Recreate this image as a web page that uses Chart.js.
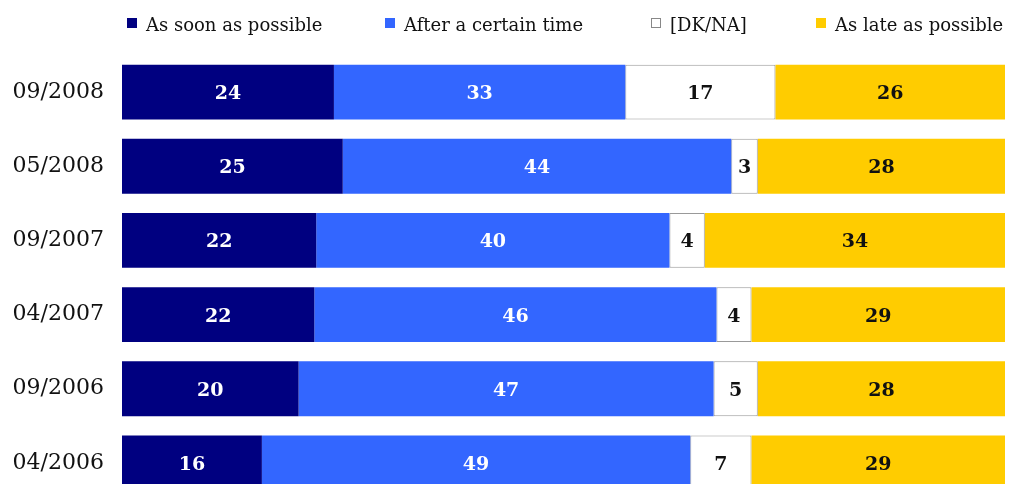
<!DOCTYPE html>
<html>
<head>
<meta charset="utf-8">
<script src="https://cdn.jsdelivr.net/npm/chart.js@4"></script>
<style>
  html, body { margin: 0; padding: 0; background: #fff; overflow: hidden; }
  #c { display: block; }
</style>
</head>
<body>
<canvas id="c" width="1009" height="500" style="width:1009px;height:500px"></canvas>
<script>
// Survey waves (top to bottom)
const waves = ['09/2008', '05/2008', '09/2007', '04/2007', '09/2006', '04/2006'];

// Answer shares per wave, in percent
const asSoonAsPossible   = [24, 25, 22, 22, 20, 16];
const afterCertainTime   = [33, 44, 40, 46, 47, 49];
const dontKnow           = [17, 3, 4, 4, 5, 7];
const asLateAsPossible   = [26, 28, 34, 29, 28, 29];

const seriesNames  = ['As soon as possible', 'After a certain time', '[DK/NA]', 'As late as possible'];
const seriesValues = [asSoonAsPossible, afterCertainTime, dontKnow, asLateAsPossible];
const fills        = ['#000080', '#3366FF', '#FFFFFF', '#FFCC00'];
const labelColors  = ['#FFFFFF', '#FFFFFF', '#111111', '#111111'];

// Each row is drawn as a full-width bar: shares scaled to the row total
const rowTotals = waves.map((_, i) => seriesValues.reduce((s, arr) => s + arr[i], 0));

const FONT = '"DejaVu Serif", Georgia, serif';

const datasets = seriesValues.map((vals, k) => ({
  label: seriesNames[k],
  data: vals.map((v, i) => v / rowTotals[i] * 100),
  raw: vals,
  backgroundColor: fills[k],
  borderColor: k === 2 ? '#999999' : fills[k],
  borderWidth: k === 2 ? 1 : 0,
  borderSkipped: false,
  categoryPercentage: 1.0,
  barPercentage: 0.74
}));

// Value labels centred in every segment
const valueLabels = {
  id: 'valueLabels',
  afterDatasetsDraw(chart) {
    const ctx = chart.ctx;
    ctx.save();
    ctx.font = 'bold 19px ' + FONT;
    ctx.textAlign = 'center';
    ctx.textBaseline = 'middle';
    chart.data.datasets.forEach((ds, k) => {
      chart.getDatasetMeta(k).data.forEach((bar, i) => {
        const cx = (bar.x + bar.base) / 2;
        ctx.fillStyle = labelColors[k];
        ctx.fillText(String(ds.raw[i]), cx, bar.y + 2);
      });
    });
    ctx.restore();
  }
};

// Legend row across the top
const legendRow = {
  id: 'legendRow',
  afterDraw(chart) {
    const ctx = chart.ctx;
    const xs = [127, 385, 651, 816];
    ctx.save();
    ctx.font = '18px ' + FONT;
    ctx.textBaseline = 'alphabetic';
    ctx.textAlign = 'left';
    seriesNames.forEach((name, k) => {
      const x = xs[k];
      ctx.fillStyle = fills[k];
      ctx.fillRect(x, 18, 10, 10);
      if (k === 2) {
        ctx.strokeStyle = '#888888';
        ctx.lineWidth = 1;
        ctx.strokeRect(x + 0.5, 18.5, 9, 9);
      }
      ctx.fillStyle = '#111111';
      ctx.fillText(name, x + 19, 31);
    });
    ctx.restore();
  }
};

new Chart(document.getElementById('c'), {
  type: 'bar',
  data: { labels: waves, datasets },
  options: {
    indexAxis: 'y',
    responsive: false,
    animation: false,
    layout: { padding: { top: 55, right: 4, left: 0, bottom: 0 } },
    plugins: { legend: { display: false }, tooltip: { enabled: false } },
    scales: {
      x: { stacked: true, min: 0, max: 100, display: false },
      y: {
        stacked: true,
        grid: { display: false, drawTicks: false },
        border: { display: false },
        ticks: { color: '#111111', font: { family: FONT, size: 22 }, padding: 18 },
        afterFit(scale) {
          scale.width = 122;
          scale.paddingTop = 0;
          scale.paddingBottom = 0;
        }
      }
    }
  },
  plugins: [valueLabels, legendRow]
});
</script>
</body>
</html>
